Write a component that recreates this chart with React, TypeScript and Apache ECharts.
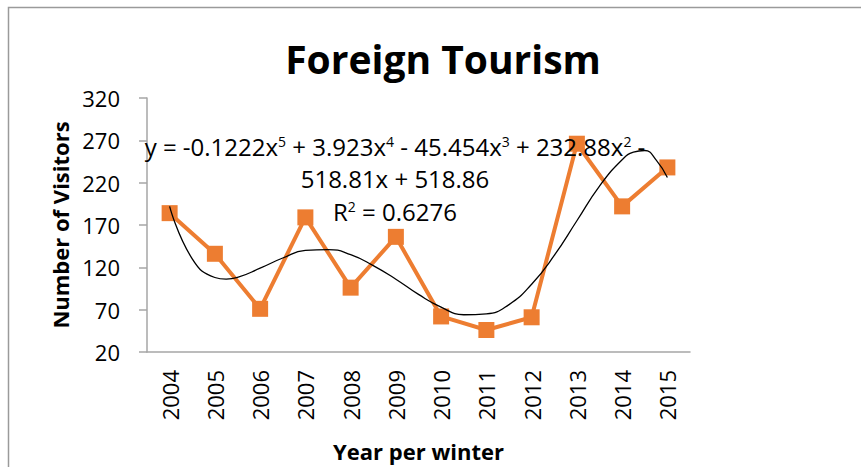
import { useEffect, useRef } from "react";
import * as echarts from "echarts";

// 年份（冬季）
const YEARS = [
  "2004", "2005", "2006", "2007", "2008", "2009",
  "2010", "2011", "2012", "2013", "2014", "2015",
];
// 游客人数
const VISITORS = [184, 136, 71, 179, 96, 156, 62, 46, 61, 266, 192, 238];
// 五次多项式趋势线，按图上曲线读出的点（x 为第几年，1..12）
const TREND_X = [
  1, 1.5, 2, 2.25, 2.5, 3, 3.5, 4, 4.5, 5, 5.5, 6, 6.5,
  7, 7.5, 8, 8.5, 9, 9.5, 10, 10.5, 11, 11.25, 11.5, 11.75, 12,
];
const TREND_Y = [
  192, 130, 108, 106, 108, 119, 131, 140, 141, 135, 122, 106, 88,
  73, 64, 65, 76, 100, 134, 175, 216, 247, 256, 258, 247, 226,
];
const Y_TICKS = [20, 70, 120, 170, 220, 270, 320];
// 趋势线公式与 R²（三行）
const EQ_LINES = [
  "y = -0.1222x{s|5} + 3.923x{s|4} - 45.454x{s|3} + 232.88x{s|2} -",
  "518.81x + 518.86",
  "R{s|2} = 0.6276",
];
const EQ_TOPS = [134, 166, 199];

const FONT = "'Open Sans', Lato, sans-serif";

export default function App() {
  const ref = useRef<HTMLDivElement>(null);

  useEffect(() => {
    if (!ref.current) return;
    document.body.style.margin = "0";
    const chart = echarts.init(ref.current, null, { renderer: "svg" });

    const eqTitles = EQ_LINES.map((text, i) => ({
      text,
      left: 395,
      top: EQ_TOPS[i],
      textAlign: "center",
      padding: 0,
      textStyle: {
        fontSize: 24,
        fontWeight: "normal",
        color: "#000",
        lineHeight: 24,
        fontFamily: FONT,
        rich: {
          s: { fontSize: 14, verticalAlign: "top", lineHeight: 14, color: "#000", fontFamily: FONT },
        },
      },
    }));

    chart.setOption({
      animation: false,
      textStyle: { fontFamily: FONT },
      title: [
        {
          text: "Foreign Tourism",
          left: 438,
          top: 34,
          textAlign: "center",
          textStyle: { fontSize: 39, fontWeight: "bold", color: "#000", fontFamily: FONT },
        },
        ...eqTitles,
      ],
      graphic: [
        {
          type: "rect",
          shape: { x: 8.5, y: 7.5, width: 900, height: 500 },
          style: { fill: "none", stroke: "#9a9a9a", lineWidth: 1.5 },
          silent: true,
        },
      ],
      grid: { left: 147, right: 171, top: 98, bottom: 111 },
      xAxis: [
        {
          type: "category",
          data: YEARS,
          boundaryGap: true,
          name: "Year per winter",
          nameLocation: "middle",
          nameGap: 88,
          nameTextStyle: { fontSize: 22, fontWeight: "bold", color: "#000", fontFamily: FONT },
          axisLine: { lineStyle: { color: "#a6a6a6", width: 1.5 } },
          axisTick: { show: false },
          axisLabel: { rotate: 90, fontSize: 22, color: "#000", margin: 18, fontFamily: FONT },
        },
        {
          type: "value",
          min: 0.5,
          max: 12.5,
          show: false,
        },
      ],
      yAxis: {
        type: "value",
        min: 20,
        max: 320,
        name: "Number of Visitors",
        nameLocation: "middle",
        nameGap: 74,
        nameTextStyle: { fontSize: 22, fontWeight: "bold", color: "#000", fontFamily: FONT },
        axisLine: { show: true, lineStyle: { color: "#a6a6a6", width: 1.5 } },
        axisTick: { show: true, length: 8, customValues: Y_TICKS, lineStyle: { color: "#a6a6a6", width: 1.5 } },
        axisLabel: { fontSize: 22, color: "#000", margin: 27, customValues: Y_TICKS, fontFamily: FONT },
        splitLine: { show: false },
      },
      series: [
        {
          type: "line",
          data: VISITORS,
          symbol: "rect",
          symbolSize: 16,
          lineStyle: { color: "#ED7D31", width: 4 },
          itemStyle: { color: "#ED7D31" },
          z: 2,
        },
        {
          type: "line",
          xAxisIndex: 1,
          data: TREND_X.map((x, i) => [x, TREND_Y[i]]),
          smooth: true,
          symbol: "none",
          lineStyle: { color: "#000", width: 1.3 },
          z: 3,
        },
      ],
    });

    return () => chart.dispose();
  }, []);

  return <div ref={ref} style={{ width: 861, height: 467 }} />;
}
